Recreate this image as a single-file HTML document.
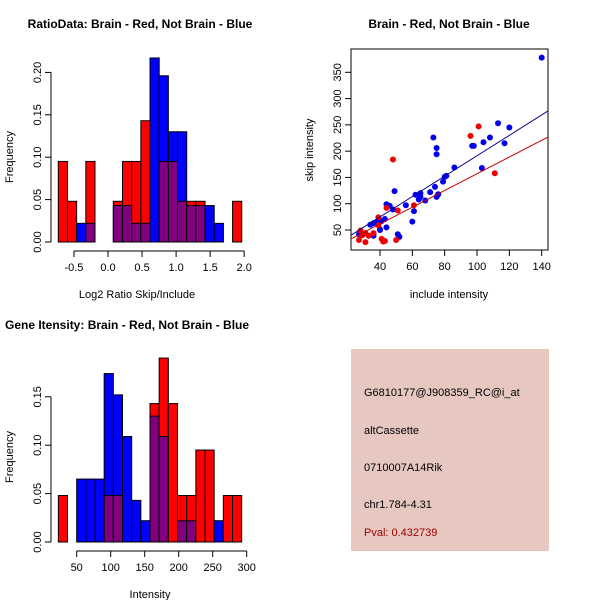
<!DOCTYPE html>
<html><head><meta charset="utf-8"><style>
body{margin:0;background:#fff}
svg{display:block;font-family:"Liberation Sans",sans-serif}
</style></head><body>
<svg id="c" width="600" height="600" xmlns="http://www.w3.org/2000/svg">
<rect x="351" y="349" width="198" height="202" fill="#e6c8c1"/>
<text x="364" y="396" font-size="11">G6810177@J908359_RC@i_at</text>
<text x="364" y="434" font-size="11">altCassette</text>
<text x="364" y="471" font-size="11">0710007A14Rik</text>
<text x="364" y="508" font-size="11">chr1.784-4.31</text>
<text x="364" y="536" font-size="11" fill="#a00000">Pval: 0.432739</text>
</svg>
<script>
// Top-left histogram data
const ratioRed=[0.095,0.048,0,0.095,0,0,0.048,0.095,0.095,0.143,0,0.095,0.095,0.048,0.048,0.048,0,0,0,0.048];
const ratioBlue=[0,0,0.022,0.022,0,0,0.043,0.043,0.022,0.022,0.217,0.196,0.130,0.130,0.043,0.043,0.043,0.022,0,0];
const ratioXTicks=["-0.5","0.0","0.5","1.0","1.5","2.0"];
const ratioXTickVals=[-0.5,0,0.5,1,1.5,2];
const ratioYTicks=["0.00","0.05","0.10","0.15","0.20"];
const ratioYTickVals=[0,0.05,0.1,0.15,0.2];
// Bottom-left histogram data
const intRed=[0.048,0,0,0,0,0.048,0.048,0,0,0,0.143,0.190,0.143,0.048,0.048,0.095,0.095,0,0.048,0.048];
const intBlue=[0,0,0.065,0.065,0.065,0.174,0.152,0.109,0.043,0.022,0.130,0.109,0,0.022,0.022,0,0,0.022,0,0];
const intXTicks=["50","100","150","200","250","300"];
const intXTickVals=[50,100,150,200,250,300];
const intYTicks=["0.00","0.05","0.10","0.15"];
const intYTickVals=[0,0.05,0.1,0.15];
// Scatter data
const blueX=[140,113,120,108,104,117,98,97,75,73,75,103,86,81,80,79,74,71,49,76,75,65,65,62,64,68,56,44,46,48,61,60,43,44,51,52,41,40,40,38,39,36,34,36,27];
const blueY=[378,253,245,226,217,215,210,210,206,226,194,168,169,153,151,142,132,122,124,118,113,120,113,117,108,106,97,99,96,89,86,66,71,55,42,37,67,51,50,63,68,63,60,39,42];
const redX=[48,96,101,111,51,44,39,39,28,27,29,31,33,36,31,41,42,43,50,61];
const redY=[184,229,247,158,87,92,74,59,49,31,40,44,39,44,27,33,28,29,31,97];
const fitBlue=[-2.7,1.94];
const fitRed=[-2,1.59];
const scXTicks=["40","60","80","100","120","140"];
const scXTickVals=[40,60,80,100,120,140];
const scYTicks=["50","100","150","200","250","300","350"];
const scYTickVals=[50,100,150,200,250,300,350];

const svg=document.getElementById('c');
const NS='http://www.w3.org/2000/svg';
function mk(tag,at,parent){const e=document.createElementNS(NS,tag);for(const k in at)e.setAttribute(k,at[k]);(parent||svg).appendChild(e);return e;}
function txt(x,y,s,size,extra,parent){const t=mk('text',Object.assign({x:x,y:y,'font-size':size},extra||{}),parent);t.textContent=s;return t;}

function yAxis(g,ax,vals,labels,sy,name){
  const y0=sy(vals[0]),y1=sy(vals[vals.length-1]);
  const l=mk('line',{x1:ax,x2:ax,y1:y0,y2:y1,stroke:'#000'},g);
  
  vals.forEach((v,i)=>{const y=sy(v);
    const tk=mk('line',{x1:ax-6,x2:ax,y1:y,y2:y,stroke:'#000'},g);
    
    const t=txt(ax-10,y,labels[i],11,{'text-anchor':'middle',transform:`rotate(-90 ${ax-10} ${y})`},g);
    
  });
}
function xAxis(g,ay,vals,labels,sx,name){
  const l=mk('line',{x1:sx(vals[0]),x2:sx(vals[vals.length-1]),y1:ay,y2:ay,stroke:'#000'},g);
  
  vals.forEach((v,i)=>{const x=sx(v);
    const tk=mk('line',{x1:x,x2:x,y1:ay,y2:ay+6,stroke:'#000'},g);
    
    const t=txt(x,ay+20,labels[i],11,{'text-anchor':'middle'},g);
    
  });
}
function hist(g,red,blue,x0,bw,sx,sy,name){
  red.forEach((r,i)=>{const b=blue[i];const xa=sx(x0+i*bw),xb=sx(x0+(i+1)*bw);
    const hi=Math.max(r,b),lo=Math.min(r,b);
    if(hi>0){const rc=mk('rect',{x:xa,y:sy(hi),width:xb-xa,height:sy(0)-sy(hi),fill:r>=b?'#ff0000':'#0000ff',stroke:'#000'},g);
      }
    if(lo>0){const pc=mk('rect',{x:xa,y:sy(lo),width:xb-xa,height:sy(0)-sy(lo),fill:'#800080',stroke:'#000'},g);
      }
  });
}

// Panel 1
let g=mk('g',{});
let sx=v=>108+v*68.1, sy=v=>242-v*848;
hist(g,ratioRed,ratioBlue,-0.73,0.1347,sx,sy,'ratio');
yAxis(g,51,ratioYTickVals,ratioYTicks,sy,'ratio-y-axis');
xAxis(g,251,ratioXTickVals,ratioXTicks,sx,'ratio-x-axis');
let t=txt(140,28,'RatioData: Brain - Red, Not Brain - Blue',12,{'text-anchor':'middle','font-weight':'bold'},g);

t=txt(137,298,'Log2 Ratio Skip/Include',11,{'text-anchor':'middle'},g);

t=txt(13,157,'Frequency',11,{'text-anchor':'middle',transform:'rotate(-90 13 157)'},g);


// Panel 3
g=mk('g',{});
sx=v=>76.7+(v-50)*0.68; sy=v=>542-v*968;
hist(g,intRed,intBlue,23,13.48,sx,sy,'intensity');
yAxis(g,51,intYTickVals,intYTicks,sy,'intensity-y-axis');
xAxis(g,551,intXTickVals,intXTicks,sx,'intensity-x-axis');
t=txt(5,329,'Gene Itensity: Brain - Red, Not Brain - Blue',12,{'font-weight':'bold'},g);

t=txt(150,598,'Intensity',11,{'text-anchor':'middle'},g);

t=txt(13,457,'Frequency',11,{'text-anchor':'middle',transform:'rotate(-90 13 457)'},g);


// Panel 2 scatter
g=mk('g',{});
sx=v=>380+(v-40)*1.617; sy=v=>230-(v-50)*0.5257;
const box=mk('rect',{x:351,y:49,width:197,height:201,fill:'none',stroke:'#000'},g);

const cp=mk('clipPath',{id:'clp'},g);mk('rect',{x:351,y:49,width:197,height:201},cp);
blueX.forEach((x,i)=>{const c=mk('circle',{cx:sx(x),cy:sy(blueY[i]),r:3,fill:'#0000ee'},g);
  });
redX.forEach((x,i)=>{const c=mk('circle',{cx:sx(x),cy:sy(redY[i]),r:3,fill:'#ee0000'},g);
  });
[[fitBlue,'#00008b','blue-fit-line'],[fitRed,'#cc0000','red-fit-line']].forEach(([f,col,nm])=>{
  const xa=20,xb=146;
  const l=mk('line',{x1:sx(xa),y1:sy(f[0]+f[1]*xa),x2:sx(xb),y2:sy(f[0]+f[1]*xb),stroke:col,'clip-path':'url(#clp)'},g);
  });
yAxis(g,351,scYTickVals,scYTicks,sy,'scatter-y-axis');
xAxis(g,250,scXTickVals,scXTicks,sx,'scatter-x-axis');
t=txt(449,28,'Brain - Red, Not Brain - Blue',12,{'text-anchor':'middle','font-weight':'bold'},g);

t=txt(449,298,'include intensity',11,{'text-anchor':'middle'},g);

t=txt(313,150,'skip intensity',11,{'text-anchor':'middle',transform:'rotate(-90 313 150)'},g);

</script>
</body></html>
